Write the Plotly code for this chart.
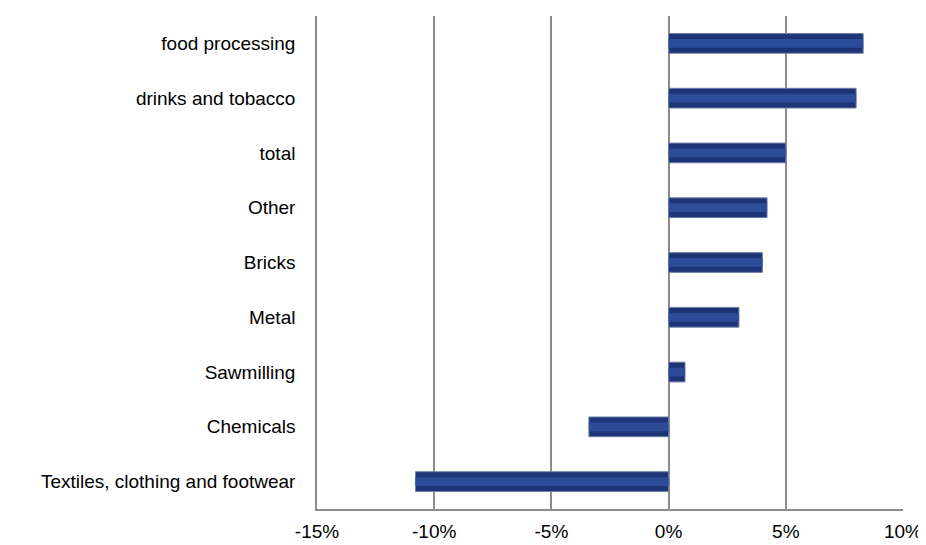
import plotly.graph_objects as go

# sectors, bottom to top as drawn
sectors = ["Textiles, clothing and footwear", "Chemicals", "Sawmilling", "Metal",
           "Bricks", "Other", "total", "drinks and tobacco", "food processing"]
growth = [-0.108, -0.034, 0.007, 0.030, 0.040, 0.042, 0.050, 0.080, 0.083]

x_ticks = [-0.15, -0.10, -0.05, 0.0, 0.05, 0.10]
x_labels = ["-15%", "-10%", "-5%", "0%", "5%", "10%"]

fig = go.Figure()
# main bar
fig.add_trace(go.Bar(
    y=sectors, x=growth, orientation="h", width=0.36,
    marker=dict(color="#1d3576", line=dict(color="#6f7ea8", width=1)),
    hoverinfo="x+y",
))
# lighter middle band to hint the bevelled look
fig.add_trace(go.Bar(
    y=sectors, x=growth, orientation="h", width=0.16,
    marker=dict(color="#2d4c98", line=dict(width=0)),
    hoverinfo="skip",
))

# page body keeps an 8px margin, so the figure is a bit smaller than the window
fig.update_layout(
    barmode="overlay",
    width=918, height=537,
    margin=dict(l=309, r=23, t=8, b=36),
    plot_bgcolor="white", paper_bgcolor="white",
    showlegend=False,
    font=dict(family="Liberation Sans, Arial", size=19, color="black"),
)
fig.update_xaxes(
    range=[-0.15, 0.10], tickvals=x_ticks, ticktext=x_labels,
    showgrid=True, gridcolor="#8c8c8c", gridwidth=1.5,
    showline=True, linecolor="#8c8c8c", linewidth=1.5,
    zeroline=False, ticks="", ticklabelstandoff=4, automargin=False,
)
fig.update_yaxes(
    categoryorder="array", categoryarray=sectors,
    showgrid=False, showline=True, linecolor="#8c8c8c", linewidth=1.5,
    ticks="", ticklabelstandoff=16, automargin=False,
)

fig.write_html("out.html")
